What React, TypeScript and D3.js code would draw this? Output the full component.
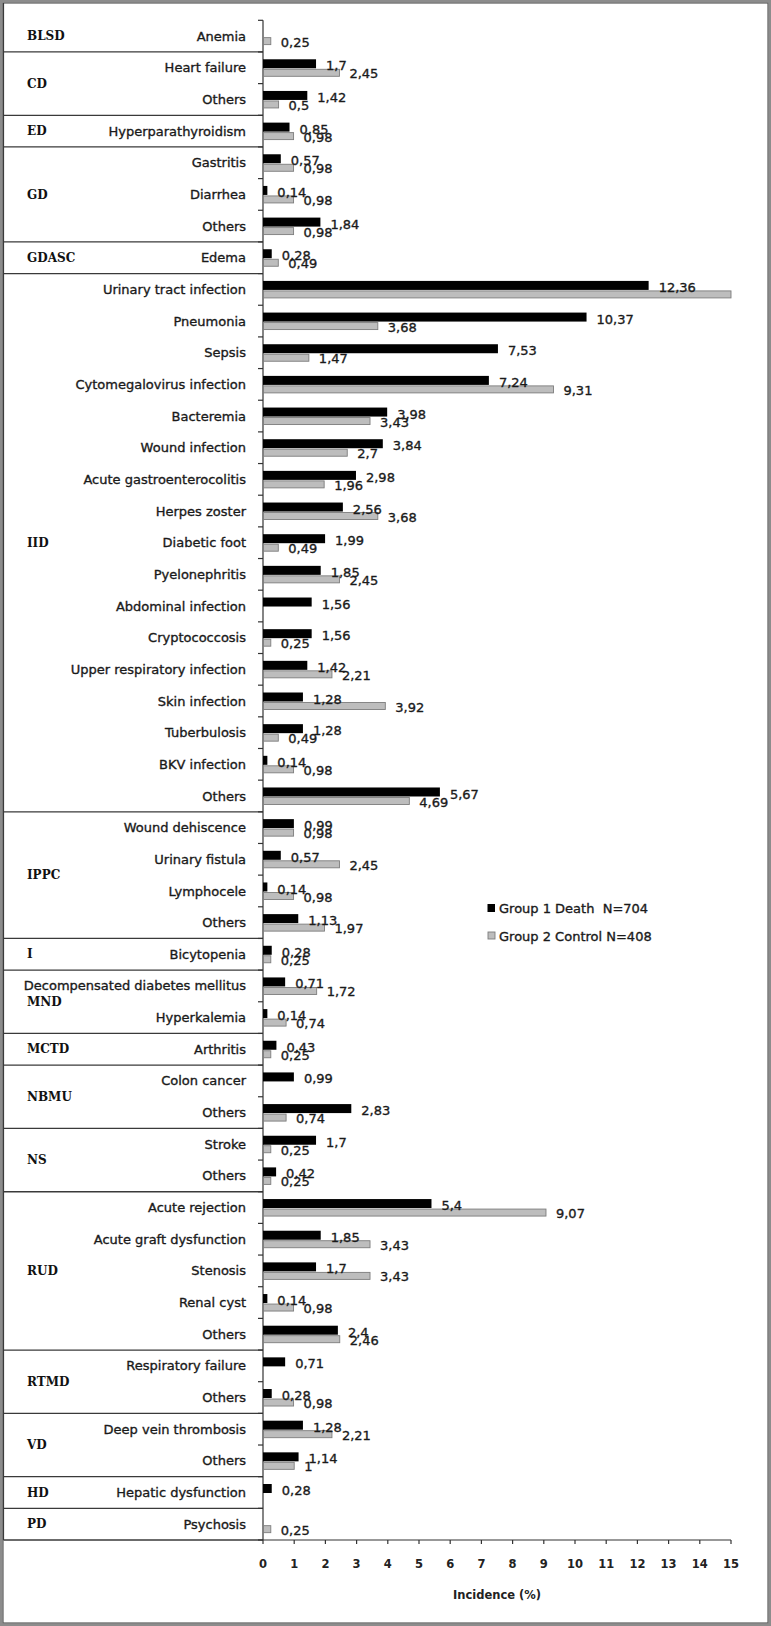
import React from "react";
import * as d3 from "d3";

const groups = ["BLSD", "CD", "ED", "GD", "GDASC", "IID", "IPPC", "I", "MND", "MCTD", "NBMU", "NS", "RUD", "RTMD", "VD", "HD", "PD"];
const groupSizes = [1, 2, 1, 3, 1, 17, 4, 1, 2, 1, 2, 2, 5, 2, 2, 1, 1];

const categories = [
  "Anemia",
  "Heart failure", "Others",
  "Hyperparathyroidism",
  "Gastritis", "Diarrhea", "Others",
  "Edema",
  "Urinary tract infection", "Pneumonia", "Sepsis", "Cytomegalovirus infection", "Bacteremia",
  "Wound infection", "Acute gastroenterocolitis", "Herpes zoster", "Diabetic foot", "Pyelonephritis",
  "Abdominal infection", "Cryptococcosis", "Upper respiratory infection", "Skin infection",
  "Tuberbulosis", "BKV infection", "Others",
  "Wound dehiscence", "Urinary fistula", "Lymphocele", "Others",
  "Bicytopenia",
  "Decompensated diabetes mellitus", "Hyperkalemia",
  "Arthritis",
  "Colon cancer", "Others",
  "Stroke", "Others",
  "Acute rejection", "Acute graft dysfunction", "Stenosis", "Renal cyst", "Others",
  "Respiratory failure", "Others",
  "Deep vein thrombosis", "Others",
  "Hepatic dysfunction",
  "Psychosis",
];

const group1Death: (number | null)[] = [
  null,
  1.7, 1.42,
  0.85,
  0.57, 0.14, 1.84,
  0.28,
  12.36, 10.37, 7.53, 7.24, 3.98, 3.84, 2.98, 2.56, 1.99, 1.85, 1.56, 1.56, 1.42, 1.28, 1.28, 0.14, 5.67,
  0.99, 0.57, 0.14, 1.13,
  0.28,
  0.71, 0.14,
  0.43,
  0.99, 2.83,
  1.7, 0.42,
  5.4, 1.85, 1.7, 0.14, 2.4,
  0.71, 0.28,
  1.28, 1.14,
  0.28,
  null,
];

const group2Control: (number | null)[] = [
  0.25,
  2.45, 0.5,
  0.98,
  0.98, 0.98, 0.98,
  0.49,
  15, 3.68, 1.47, 9.31, 3.43, 2.7, 1.96, 3.68, 0.49, 2.45, null, 0.25, 2.21, 3.92, 0.49, 0.98, 4.69,
  0.98, 2.45, 0.98, 1.97,
  0.25,
  1.72, 0.74,
  0.25,
  null, 0.74,
  0.25, 0.25,
  9.07, 3.43, 3.43, 0.98, 2.46,
  null, 0.98,
  2.21, 1,
  null,
  0.25,
];

const xTicks = d3.range(0, 16);
const seriesNames = ["Group 1 Death  N=704", "Group 2 Control N=408"];
const axisTitle = "Incidence (%)";

const W = 771;
const H = 1626;
const SANS = "'DejaVu Sans', Verdana, sans-serif";
const SERIF = "'DejaVu Serif', serif";
const INK = "#1a1a1a";
const heavy = { stroke: INK, strokeWidth: 0.35 };

const fmt = (v: number) => String(v).replace(".", ",");

export default function App() {
  const x = d3.scaleLinear().domain([0, 15]).range([263, 731]);
  const y = d3.scaleBand<number>().domain(d3.range(categories.length)).range([20.3, 1540]).padding(0);
  const bw = y.bandwidth();
  const cy = (i: number) => (y(i) as number) + bw / 2;

  const starts: number[] = [];
  let acc = 0;
  groupSizes.forEach((s) => {
    starts.push(acc);
    acc += s;
  });

  const axisX = x(0);
  const left = 3.5;

  return (
    <svg width={W} height={H} style={{ position: "absolute", left: 0, top: 0, display: "block", background: "#fff" }}>
      {/* frame */}
      <rect x={1.5} y={1.5} width={W - 3} height={H - 3} fill="none" stroke="#8c8c8c" strokeWidth={3} />
      <rect x={3.2} y={3.2} width={W - 6.4} height={H - 6.4} fill="none" stroke="#5a5a5a" strokeWidth={0.8} />

      {/* group boxes */}
      <line x1={left} x2={left} y1={3} y2={1540} stroke="#3a3a3a" strokeWidth={1.2} />
      {starts.map((s, gi) => {
        const yTop = y(s) as number;
        const yBot = (y(s + groupSizes[gi] - 1) as number) + bw;
        return (
          <g key={"g" + gi}>
            {gi > 0 && <line x1={left} x2={axisX} y1={yTop} y2={yTop} stroke="#3a3a3a" strokeWidth={1.3} />}
            <text
              x={27}
              y={(yTop + yBot) / 2}
              dy="0.35em"
              fontFamily={SERIF}
              fontWeight="bold"
              fontSize={12}
              fill="#111"
            >
              {groups[gi]}
            </text>
          </g>
        );
      })}
      <line x1={left} x2={axisX} y1={1540} y2={1540} stroke="#3a3a3a" strokeWidth={1.3} />

      {/* category labels */}
      {categories.map((c, i) => (
        <text
          key={"c" + i}
          x={246}
          y={cy(i)}
          dy="0.35em"
          textAnchor="end"
          fontFamily={SANS}
          fontSize={13}
          fill={INK}
          {...heavy}
        >
          {c}
        </text>
      ))}

      {/* y axis */}
      <line x1={axisX} x2={axisX} y1={y(0) as number} y2={1540} stroke="#333" strokeWidth={1.2} />
      {d3.range(categories.length + 1).map((i) => {
        const yy = i < categories.length ? (y(i) as number) : 1540;
        return <line key={"yt" + i} x1={axisX - 5} x2={axisX} y1={yy} y2={yy} stroke="#333" strokeWidth={1.2} />;
      })}

      {/* bars */}
      {categories.map((c, i) => {
        const v1 = group1Death[i];
        const v2 = group2Control[i];
        const c0 = cy(i);
        return (
          <g key={"b" + i}>
            {v1 != null && (
              <rect x={x(0)} y={c0 - 8.5} width={x(v1) - x(0)} height={9} fill="#000" />
            )}
            {v2 != null && (
              <rect
                x={x(0) + 0.5}
                y={c0 + 1.5}
                width={Math.max(0, x(v2) - x(0) - 0.5)}
                height={7}
                fill="#bdbdbd"
                stroke="#7d7d7d"
                strokeWidth={0.9}
              />
            )}
            {v1 != null && v1 < 15 && (
              <text x={x(v1) + 10} y={c0 - 2} dy="0.35em" fontFamily={SANS} fontSize={13} fill={INK} {...heavy}>
                {fmt(v1)}
              </text>
            )}
            {v2 != null && v2 < 15 && (
              <text x={x(v2) + 10} y={c0 + 6} dy="0.35em" fontFamily={SANS} fontSize={13} fill={INK} {...heavy}>
                {fmt(v2)}
              </text>
            )}
          </g>
        );
      })}

      {/* x axis */}
      <line x1={x(0)} x2={x(15)} y1={1540} y2={1540} stroke="#333" strokeWidth={1.2} />
      {xTicks.map((t) => (
        <g key={"xt" + t}>
          <line x1={x(t)} x2={x(t)} y1={1540} y2={1544} stroke="#333" strokeWidth={1.2} />
          <text
            x={x(t)}
            y={1564}
            dy="0.35em"
            textAnchor="middle"
            fontFamily={SANS}
            fontWeight="bold"
            fontSize={11.5}
            fill="#222"
          >
            {t}
          </text>
        </g>
      ))}
      <text
        x={(x(0) + x(15)) / 2}
        y={1595}
        dy="0.35em"
        textAnchor="middle"
        fontFamily={SANS}
        fontWeight="bold"
        fontSize={11.5}
        fill="#222"
      >
        {axisTitle}
      </text>

      {/* legend */}
      <rect x={487.5} y={904} width={7.5} height={8} fill="#000" />
      <text x={499} y={908} dy="0.35em" fontFamily={SANS} fontSize={13} fill={INK} style={{ whiteSpace: "pre" }} {...heavy}>
        {seriesNames[0]}
      </text>
      <rect x={488} y={932} width={7} height={7} fill="#bdbdbd" stroke="#7d7d7d" strokeWidth={0.9} />
      <text x={499} y={936.5} dy="0.35em" fontFamily={SANS} fontSize={13} fill={INK} {...heavy}>
        {seriesNames[1]}
      </text>
    </svg>
  );
}
